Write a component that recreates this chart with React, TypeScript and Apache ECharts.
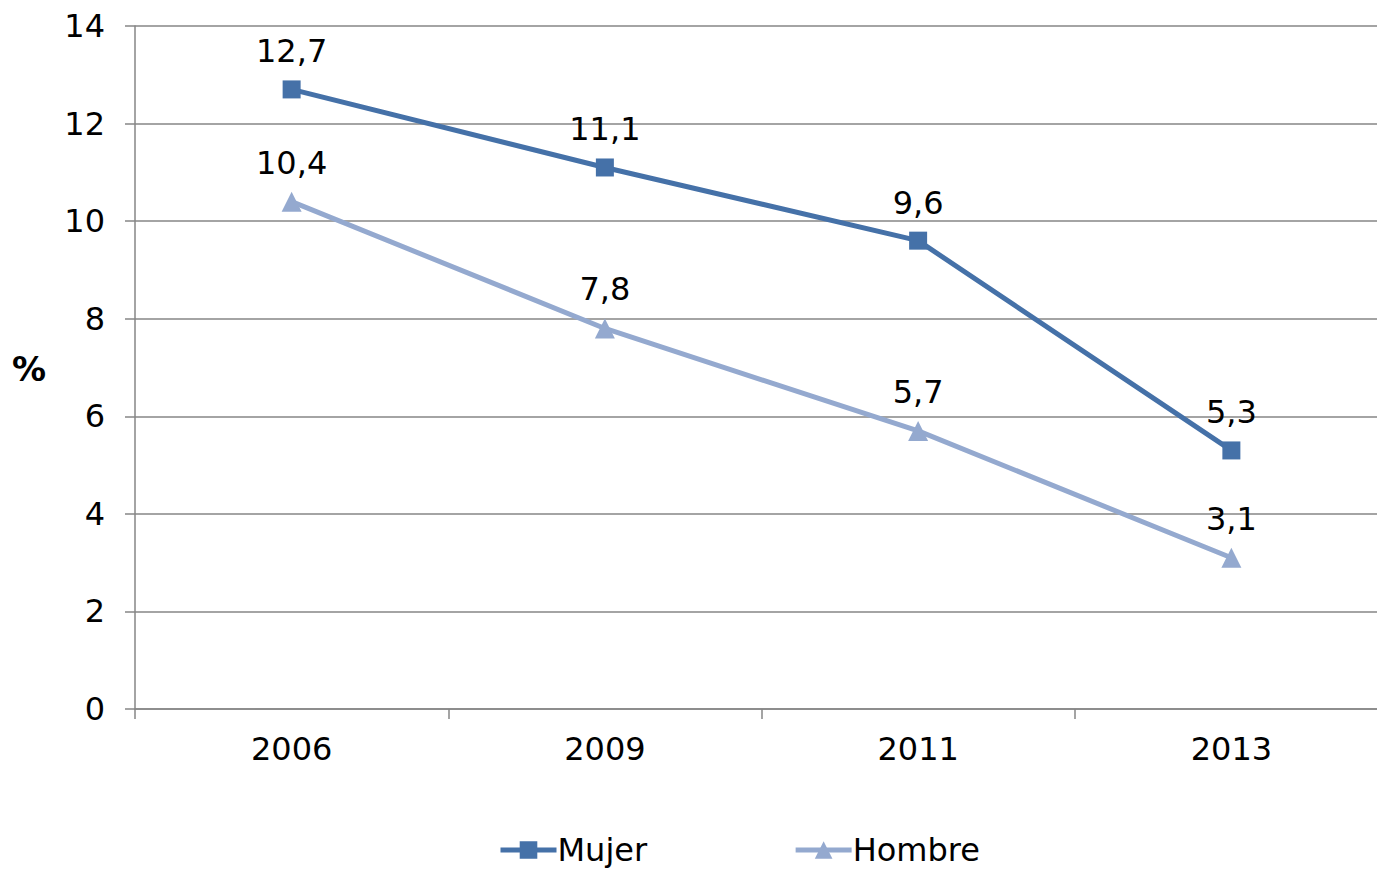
import React, { useEffect, useRef } from "react";
import * as echarts from "echarts";

const categories = ["2006", "2009", "2011", "2013"];
const mujer = [12.7, 11.1, 9.6, 5.3];
const hombre = [10.4, 7.8, 5.7, 3.1];
const yTicks = { min: 0, max: 14, interval: 2 };

const FONT = "DejaVu Sans";
const FS = 32;

export default function App() {
  const ref = useRef<HTMLDivElement>(null);
  useEffect(() => {
    if (!ref.current) return;
    const chart = echarts.init(ref.current, null, { renderer: "svg" });
    const fmt = (p: any) => String(p.value).replace(".", ",");
    chart.setOption({
      animation: false,
      backgroundColor: "#ffffff",
      textStyle: { fontFamily: FONT },
      grid: { left: 135, top: 26, width: 1253, height: 683, containLabel: false },
      graphic: [
        {
          type: "text",
          left: 12,
          top: 352,
          style: { text: "%", font: `bold 34px ${FONT}`, fill: "#000" },
        },
      ],
      legend: {
        top: 829,
        left: 493,
        itemGap: 146,
        itemWidth: 56,
        itemHeight: 22,
        lineStyle: { width: 5 },
        textStyle: { fontFamily: FONT, fontSize: FS, color: "#000", padding: [0, 0, 0, -4] },
        data: ["Mujer", "Hombre"],
      },
      xAxis: {
        type: "category",
        data: categories,
        boundaryGap: true,
        axisLine: { lineStyle: { color: "#868686", width: 1.5 } },
        axisTick: { show: true, length: 10, lineStyle: { color: "#868686", width: 1.5 } },
        axisLabel: { fontSize: FS, color: "#000", margin: 24, fontFamily: FONT },
        splitLine: { show: false },
      },
      yAxis: {
        type: "value",
        min: yTicks.min,
        max: yTicks.max,
        interval: yTicks.interval,
        axisLine: { show: true, lineStyle: { color: "#868686", width: 1.5 } },
        axisTick: { show: true, length: 10, lineStyle: { color: "#868686", width: 1.5 } },
        axisLabel: { fontSize: FS, color: "#000", margin: 30, fontFamily: FONT },
        splitLine: { show: true, lineStyle: { color: "#868686", width: 1.5 } },
      },
      series: [
        {
          name: "Mujer",
          type: "line",
          data: mujer,
          symbol: "rect",
          symbolSize: 18,
          color: "#4571A8",
          lineStyle: { width: 5, color: "#4571A8" },
          itemStyle: { color: "#4571A8" },
          label: {
            show: true,
            position: "top",
            distance: 13,
            fontSize: FS,
            color: "#000",
            fontFamily: FONT,
            formatter: fmt,
          },
        },
        {
          name: "Hombre",
          type: "line",
          data: hombre,
          symbol: "triangle",
          symbolSize: 20,
          color: "#94A9CF",
          lineStyle: { width: 5, color: "#94A9CF" },
          itemStyle: { color: "#94A9CF" },
          label: {
            show: true,
            position: "top",
            distance: 13,
            fontSize: FS,
            color: "#000",
            fontFamily: FONT,
            formatter: fmt,
          },
        },
      ],
    });
    return () => chart.dispose();
  }, []);
  return (
    <div
      ref={ref}
      style={{ position: "fixed", left: 0, top: 0, width: 1390, height: 869 }}
    />
  );
}
